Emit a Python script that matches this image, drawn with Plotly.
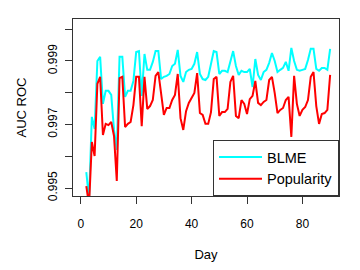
import plotly.graph_objects as go

# jours 2..90
days = list(range(2, 91))

blme = [
    0.99550, 0.99465, 0.99724, 0.99686, 0.99900, 0.99913, 0.99765, 0.99806,
    0.99806, 0.99793, 0.99683, 0.99620, 0.99913, 0.99913, 0.99787, 0.99806,
    0.99806, 0.99837, 0.99928, 0.99931, 0.99790, 0.99922, 0.99872, 0.99872,
    0.99897, 0.99931, 0.99931, 0.99843, 0.99850, 0.99853, 0.99859, 0.99884,
    0.99891, 0.99935, 0.99853, 0.99834, 0.99865, 0.99872, 0.99875, 0.99891,
    0.99928, 0.99859, 0.99843, 0.99840, 0.99850, 0.99891, 0.99931, 0.99928,
    0.99859, 0.99869, 0.99869, 0.99865, 0.99903, 0.99931, 0.99884, 0.99856,
    0.99869, 0.99865, 0.99865, 0.99875, 0.99818, 0.99906, 0.99856, 0.99840,
    0.99865, 0.99872, 0.99894, 0.99925, 0.99900, 0.99865, 0.99872, 0.99878,
    0.99897, 0.99869, 0.99941, 0.99900, 0.99872, 0.99869, 0.99872, 0.99875,
    0.99903, 0.99938, 0.99938, 0.99875, 0.99869, 0.99878, 0.99878, 0.99872,
    0.99938,
]

popularity = [
    0.99506, 0.99446, 0.99645, 0.99601, 0.99828, 0.99850, 0.99667, 0.99702,
    0.99698, 0.99708, 0.99664, 0.99522, 0.99846, 0.99850, 0.99692, 0.99702,
    0.99708, 0.99761, 0.99850, 0.99850, 0.99695, 0.99850, 0.99749, 0.99758,
    0.99777, 0.99853, 0.99865, 0.99793, 0.99730, 0.99752, 0.99752, 0.99777,
    0.99793, 0.99859, 0.99720, 0.99683, 0.99742, 0.99768, 0.99783, 0.99799,
    0.99862, 0.99736, 0.99730, 0.99702, 0.99702, 0.99739, 0.99843, 0.99850,
    0.99727, 0.99739, 0.99739, 0.99749, 0.99834, 0.99853, 0.99727, 0.99720,
    0.99777, 0.99765, 0.99733, 0.99780, 0.99790, 0.99837, 0.99768, 0.99761,
    0.99771, 0.99777, 0.99840, 0.99850, 0.99799, 0.99736, 0.99746, 0.99752,
    0.99777, 0.99787, 0.99661, 0.99853, 0.99765, 0.99727, 0.99746, 0.99755,
    0.99777, 0.99850, 0.99865, 0.99758, 0.99702, 0.99733, 0.99736, 0.99746,
    0.99856,
]

y_ticks = [0.995, 0.996, 0.997, 0.998, 0.999, 1.000]
y_labels = ["0.995", "", "0.997", "", "0.999", ""]
x_ticks = [0, 20, 40, 60, 80]

font = "Liberation Sans, Arial, sans-serif"

fig = go.Figure()
fig.add_trace(go.Scatter(x=days, y=blme, mode="lines", name="BLME",
                         line=dict(color="#00FFFF", width=2)))
fig.add_trace(go.Scatter(x=days, y=popularity, mode="lines", name="Popularity",
                         line=dict(color="#FF0000", width=2)))

# la page html garde une marge de 8px autour du graphique
fig.update_layout(
    width=344, height=254,
    margin=dict(l=65, r=13, t=11, b=66),
    paper_bgcolor="white", plot_bgcolor="white",
    font=dict(family=font, size=12, color="black"),
    showlegend=True,
    legend=dict(x=1, y=0, xanchor="right", yanchor="bottom",
                bgcolor="white", bordercolor="#333", borderwidth=1,
                font=dict(size=14.5), itemwidth=43),
    xaxis=dict(range=[-2.8, 93.2], tickvals=x_ticks, showgrid=False, zeroline=False,
               showline=True, mirror=True, linecolor="#333", linewidth=1,
               ticks="outside", ticklen=7, tickcolor="#333",
               ticklabelstandoff=10, automargin=False,
               title=dict(text="Day", font=dict(size=13), standoff=27)),
    yaxis=dict(range=[0.99475, 1.00032], tickvals=y_ticks, ticktext=y_labels,
               tickangle=-90, showgrid=False, zeroline=False,
               showline=True, mirror=True, linecolor="#333", linewidth=1,
               ticks="outside", ticklen=7, tickcolor="#333",
               ticklabelstandoff=3, automargin=False,
               title=dict(text="AUC ROC", font=dict(size=13), standoff=16)),
)

fig.write_html("out.html")
